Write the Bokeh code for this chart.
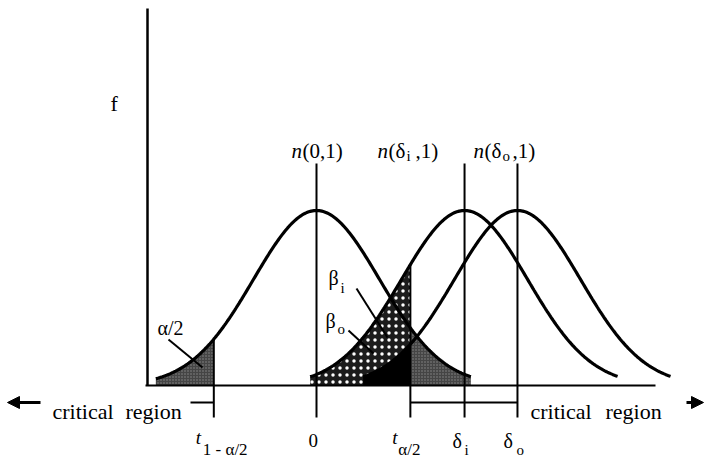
import numpy as np
from bokeh.plotting import figure
from bokeh.models import Range1d, Arrow, NormalHead, ColumnDataSource
from bokeh.core.properties import value
from bokeh.embed import file_html
from bokeh.resources import INLINE

# ---- distribution parameters (x in standard-deviation units) ----
curve_names = ["n(0,1)", "n(δi,1)", "n(δo,1)"]
curve_means = [0.0, 2.35, 3.19]          # 0, δi, δo
curve_lo = [-2.55, -2.45, -2.45]         # drawn extent left of each mean
curve_hi = [2.45, 2.43, 2.43]            # drawn extent right of each mean
t_lower = -1.63                          # t(1-α/2)
t_upper = 1.49                           # t(α/2)

# ---- page geometry ----
W, H = 704, 458
SD_PX = 63.0        # pixels per standard deviation
X0_PX = 316.0       # pixel column of the zero mean
BASE_PX = 385.0     # pixel row of the x axis
PEAK_PX = 175.0     # pixel height of a density peak


def xd(px):
    return (px - X0_PX) / SD_PX


def yd(py):
    return (BASE_PX - py) / PEAK_PX


FONT = value("Liberation Serif")

p = figure(width=W, height=H, output_backend="svg", toolbar_location=None,
           x_range=Range1d(xd(0), xd(W)), y_range=Range1d(yd(H), yd(0)),
           x_axis_location=None, y_axis_location=None, min_border=0)
p.grid.visible = False
p.outline_line_color = None
p.background_fill_color = "white"
p.border_fill_color = "white"


def curve(i, a=None, b=None):
    m = curve_means[i]
    a = m + curve_lo[i] if a is None else a
    b = m + curve_hi[i] if b is None else b
    x = np.linspace(a, b, 240)
    return x, np.exp(-0.5 * (x - m) ** 2)


# beta_i: area under n(δi,1) left of t(α/2)
x, y = curve(1, b=t_upper)
p.varea(x=x, y1=0, y2=y, fill_color="#1c1c1c", hatch_pattern="dot",
        hatch_color="white", hatch_scale=7, hatch_weight=2.5)

# beta_o: area under n(δo,1) left of t(α/2)
x, y = curve(2, b=t_upper)
p.varea(x=x, y1=0, y2=y, fill_color="black")

# alpha/2 tails of n(0,1)
for a, b in [(None, t_lower), (t_upper, None)]:
    x, y = curve(0, a, b)
    p.varea(x=x, y1=0, y2=y, fill_color="#454545", hatch_pattern="dot",
            hatch_color="#8c8c8c", hatch_scale=3, hatch_weight=1)

# the three density curves
for i in range(3):
    x, y = curve(i)
    p.line(x, y, line_color="black", line_width=3.2)

# axes
p.segment(x0=[xd(147)], y0=[0], x1=[xd(147)], y1=[yd(8)],
          line_color="black", line_width=2.5)
p.segment(x0=[xd(145)], y0=[0], x1=[xd(655)], y1=[0],
          line_color="black", line_width=2)

# marker lines at the means and critical values
tick_bottom = yd(417)
mean_top = yd(163)
p.segment(x0=curve_means, y0=[mean_top] * 3, x1=curve_means,
          y1=[tick_bottom] * 3, line_color="black", line_width=2)
t_tops = [np.exp(-0.5 * (t_lower - curve_means[0]) ** 2),
          np.exp(-0.5 * (t_upper - curve_means[1]) ** 2)]
p.segment(x0=[t_lower, t_upper], y0=t_tops, x1=[t_lower, t_upper],
          y1=[tick_bottom] * 2, line_color="black", line_width=2)

# critical-region brackets
br_y = yd(402)
p.segment(x0=[xd(190), t_upper], y0=[br_y, br_y],
          x1=[t_lower, curve_means[2]], y1=[br_y, br_y],
          line_color="black", line_width=2)
p.add_layout(Arrow(end=NormalHead(size=12, fill_color="black", line_color="black"),
                   x_start=xd(40), y_start=br_y, x_end=xd(7), y_end=br_y,
                   line_color="black", line_width=3))
p.add_layout(Arrow(end=NormalHead(size=12, fill_color="black", line_color="black"),
                   x_start=xd(686), y_start=br_y, x_end=xd(703), y_end=br_y,
                   line_color="black", line_width=3))

# leader lines for the shaded areas
p.segment(x0=[xd(168), xd(356), xd(348)], y0=[yd(339), yd(288), yd(330)],
          x1=[xd(202), xd(387), xd(373)], y1=[yd(367), yd(337), yd(353)],
          line_color="black", line_width=2)

# ---- text pieces: anchor x (data), baseline (px), dx (px), text, size, style ----
m0, mi, mo = curve_means
pieces = [
    (xd(110), 103, 0, "f", 22, "normal"),
    # curve names
    (m0, 150, -25, "n", 21, "italic"), (m0, 150, -14, "(0,1)", 21, "normal"),
    (mi, 150, -87, "n", 21, "italic"), (mi, 150, -76, "(δ", 21, "normal"),
    (mi, 155, -58, "i", 15, "normal"), (mi, 150, -49, ",1)", 21, "normal"),
    (mo, 150, -44, "n", 21, "italic"), (mo, 150, -33, "(δ", 21, "normal"),
    (mo, 155, -15, "o", 15, "normal"), (mo, 150, -5, ",1)", 21, "normal"),
    # area labels
    (xd(157), 327, 0, "α/2", 20, "normal"),
    (xd(328), 277, 0, "β", 20, "normal"), (xd(340), 287, 0, "i", 15, "normal"),
    (xd(325), 320, 0, "β", 20, "normal"), (xd(337), 328, 0, "o", 15, "normal"),
    # critical regions
    (xd(52), 411, 0, "critical", 22, "normal"), (xd(125), 411, 0, "region", 22, "normal"),
    (xd(530), 411, 0, "critical", 22, "normal"), (xd(605), 411, 0, "region", 22, "normal"),
    # tick labels
    (t_lower, 437, -18, "t", 19, "italic"), (t_lower, 449, -11, "1 - α/2", 17, "normal"),
    (m0, 440, -8, "0", 19, "normal"),
    (t_upper, 437, -18, "t", 19, "italic"), (t_upper, 449, -12, "α/2", 17, "normal"),
    (mi, 440, -12, "δ", 20, "normal"), (mi, 449, 0, "i", 15, "normal"),
    (mo, 440, -14, "δ", 20, "normal"), (mo, 449, -1, "o", 15, "normal"),
]
src = ColumnDataSource(dict(
    x=[q[0] for q in pieces],
    y=[yd(q[1]) for q in pieces],
    dx=[q[2] for q in pieces],
    text=[q[3] for q in pieces],
    size=[f"{q[4]}px" for q in pieces],
    style=[q[5] for q in pieces],
))
p.text(x="x", y="y", x_offset="dx", text="text", source=src,
       text_font=FONT, text_font_size="size", text_font_style="style",
       text_color="black", text_align="left", text_baseline="alphabetic")

open("out.html", "w").write(file_html(p, INLINE))
